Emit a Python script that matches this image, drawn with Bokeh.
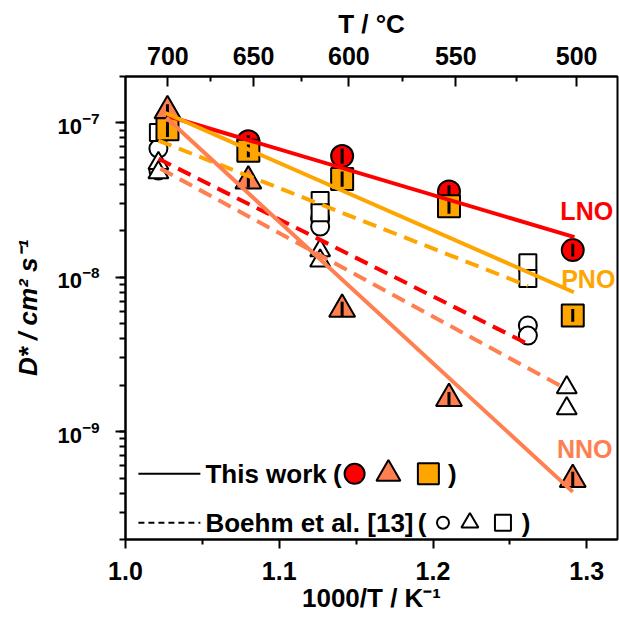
import numpy as np
from bokeh.plotting import figure
from bokeh.models import (LinearAxis, FixedTicker, CustomJSTickFormatter, Range1d,
                          Label, LogTicker, LogTickFormatter)
from bokeh.embed import file_html
from bokeh.resources import INLINE

# ---------------- data (x = 1000/T in 1/K, D* in cm^2/s) ----------------
# This work
lno_x = [1.0799, 1.1409, 1.2104, 1.2909]
lno_d = [7.6e-8, 6.1e-8, 3.6e-8, 1.5e-8]
lno_err = [1.10, 1.12, 1.10, 1.10]
nno_x = [1.0273, 1.0799, 1.1409, 1.2104, 1.2909]
nno_d = [1.2e-7, 4.2e-8, 6.2e-9, 1.64e-9, 4.9e-10]
nno_err = [1.10, 1.10, 1.12, 1.10, 1.12]
pno_x = [1.0273, 1.0799, 1.1409, 1.2104, 1.2909]
pno_d = [9.1e-8, 6.6e-8, 4.33e-8, 2.89e-8, 5.66e-9]
pno_err = [1.12, 1.10, 1.12, 1.12, 1.10]

# Boehm et al. [13]
b_lno_x = [1.0214, 1.0214, 1.1266, 1.1266, 1.2617, 1.2617]
b_lno_d = [6.82e-8, 4.92e-8, 2.40e-8, 2.13e-8, 4.87e-9, 4.19e-9]
b_nno_x = [1.0214, 1.0214, 1.1266, 1.1266, 1.287, 1.287]
b_nno_d = [5.48e-8, 4.77e-8, 1.49e-8, 1.28e-8, 1.93e-9, 1.41e-9]
b_pno_x = [1.0214, 1.1266, 1.1266, 1.2617, 1.2617]
b_pno_d = [8.67e-8, 3.14e-8, 2.62e-8, 1.24e-8, 9.81e-9]

# Arrhenius fit lines (end points)
fit_lno_x, fit_lno_d = [1.0273, 1.292], [1.11e-7, 1.82e-8]
fit_pno_x, fit_pno_d = [1.0260, 1.2916], [1.16e-7, 8.0e-9]
fit_nno_x, fit_nno_d = [1.0266, 1.2909], [1.08e-7, 4.07e-10]
bfit_pno_x, bfit_pno_d = [1.0214, 1.2617], [7.69e-8, 8.8e-9]
bfit_lno_x, bfit_lno_d = [1.0214, 1.2617], [5.86e-8, 3.7e-9]
bfit_nno_x, bfit_nno_d = [1.0227, 1.287], [5.06e-8, 1.88e-9]

# axis ticks
x_ticks = [1.0, 1.1, 1.2, 1.3]
x_minor = [1.05, 1.15, 1.25]
top_ticks_C = [700, 650, 600, 550, 500]

RED = "#FF0000"
ORANGE = "#FFA500"
CORAL = "#FF7F50"
FONT = "Liberation Sans"

p = figure(frame_width=492, frame_height=463,
           x_range=Range1d(1.0, 1.32), y_range=Range1d(2e-10, 2e-7),
           y_axis_type="log", output_backend="svg", toolbar_location=None,
           min_border_left=125, min_border_right=2, min_border_top=76,
           min_border_bottom=74)
p.xgrid.visible = False
p.ygrid.visible = False
p.outline_line_color = "black"
p.outline_line_width = 2

def style_axis(ax, size="25px"):
    ax.axis_line_width = 2
    ax.major_tick_line_width = 2
    ax.minor_tick_line_width = 2
    ax.major_label_text_font = FONT
    ax.major_label_text_font_style = "bold"
    ax.major_label_text_font_size = size
    ax.major_label_text_color = "black"
    ax.axis_label_text_font = FONT
    ax.axis_label_text_font_style = "bold"
    ax.axis_label_text_font_size = "26px"
    ax.axis_label_text_color = "black"

# bottom axis
xa = p.xaxis[0]
xa.ticker = FixedTicker(ticks=x_ticks, minor_ticks=x_minor)
xa.formatter = CustomJSTickFormatter(code="return tick.toFixed(1);")
xa.axis_label = "1000/T / K\u207b\u00b9"
xa.major_tick_out = 9
xa.major_tick_in = 0
xa.minor_tick_out = 5
xa.minor_tick_in = 0
xa.major_label_standoff = 13
xa.axis_label_standoff = 0
style_axis(xa)

# left axis
ya = p.yaxis[0]
ya.ticker = LogTicker(num_minor_ticks=10)
ya.formatter = LogTickFormatter()
ya.axis_label = "D* / cm\u00b2 s\u207b\u00b9"
ya.major_tick_out = 10
ya.major_tick_in = 0
ya.minor_tick_out = 6
ya.minor_tick_in = 0
ya.major_label_standoff = 16
ya.axis_label_standoff = 11
style_axis(ya, "22px")
ya.axis_label_text_font_style = "bold italic"

# top axis (temperature in deg C)
top_pos = [1000.0 / (t + 273.15) for t in top_ticks_C]
top_minor = [(a + b) / 2 for a, b in zip(top_pos[:-1], top_pos[1:])]
ta = LinearAxis(ticker=FixedTicker(ticks=top_pos, minor_ticks=top_minor),
                formatter=CustomJSTickFormatter(code="return Math.round(1000/tick - 273.15).toString();"),
                axis_label="T / \u00b0C")
ta.major_tick_in = 10
ta.major_tick_out = 0
ta.minor_tick_in = 5
ta.minor_tick_out = 0
ta.major_label_standoff = 12
ta.axis_label_standoff = 5
style_axis(ta)
p.add_layout(ta, "above")

# Boehm hollow markers
p.scatter(b_lno_x, b_lno_d, marker="circle", size=18, fill_color="white",
          line_color="black", line_width=2)
p.scatter(b_nno_x, b_nno_d, marker="triangle", size=20, fill_color="white",
          line_color="black", line_width=2)
p.scatter(b_pno_x, b_pno_d, marker="square", size=17, fill_color="white",
          line_color="black", line_width=2)

# this work markers + error bars
def work(xs, ds, errs, marker, size, color):
    p.scatter(xs, ds, marker=marker, size=size, fill_color=color,
              line_color="black", line_width=2)
    lo = [d / e for d, e in zip(ds, errs)]
    hi = [d * e for d, e in zip(ds, errs)]
    p.segment(xs, lo, xs, hi, line_color="black", line_width=3)

work(lno_x, lno_d, lno_err, "circle", 22, RED)
work(nno_x, nno_d, nno_err, "triangle", 26, CORAL)
work(pno_x, pno_d, pno_err, "square", 22, ORANGE)

# fit lines
p.line(bfit_pno_x, bfit_pno_d, line_color=ORANGE, line_width=4, line_dash="14 8")
p.line(bfit_lno_x, bfit_lno_d, line_color=RED, line_width=4, line_dash="14 8")
p.line(bfit_nno_x, bfit_nno_d, line_color=CORAL, line_width=4, line_dash="14 8")
p.line(fit_lno_x, fit_lno_d, line_color=RED, line_width=4)
p.line(fit_pno_x, fit_pno_d, line_color=ORANGE, line_width=4)
p.line(fit_nno_x, fit_nno_d, line_color=CORAL, line_width=4)

# series labels
for txt, x, y, c in [("LNO", 1.300, 2.67e-8, RED), ("PNO", 1.301, 9.8e-9, ORANGE),
                     ("NNO", 1.2987, 7.76e-10, CORAL)]:
    p.add_layout(Label(x=x, y=y, text=txt, text_color=c, text_font=FONT,
                       text_font_style="bold", text_font_size="25px",
                       text_align="center", text_baseline="middle"))

# legend (layout positions)
row1, row2 = 5.33e-10, 2.57e-10
p.line([1.0084, 1.0487], [row1, row1], line_color="black", line_width=2)
p.line([1.0084, 1.0487], [row2, row2], line_color="black", line_width=2, line_dash="6 4")
for txt, x, y in [("This work", 1.052, row1), ("(", 1.135, row1), (")", 1.2097, row1),
                  ("Boehm et al. [13]", 1.052, row2), ("(", 1.190, row2), (")", 1.2578, row2)]:
    p.add_layout(Label(x=x, y=y, text=txt, text_color="black", text_font=FONT,
                       text_font_style="bold", text_font_size="26px",
                       text_align="left", text_baseline="middle"))
p.scatter([1.149], [row1], marker="circle", size=20, fill_color=RED, line_color="black", line_width=2)
p.scatter([1.171], [row1], marker="triangle", size=24, fill_color=CORAL, line_color="black", line_width=2)
p.scatter([1.197], [row1], marker="square", size=21, fill_color=ORANGE, line_color="black", line_width=2)
p.scatter([1.2065], [row2], marker="circle", size=12, fill_color="white", line_color="black", line_width=2)
p.scatter([1.224], [row2], marker="triangle", size=17, fill_color="white", line_color="black", line_width=2)
p.scatter([1.2455], [row2], marker="square", size=16, fill_color="white", line_color="black", line_width=2)

open("out.html", "w").write(file_html(p, INLINE))
